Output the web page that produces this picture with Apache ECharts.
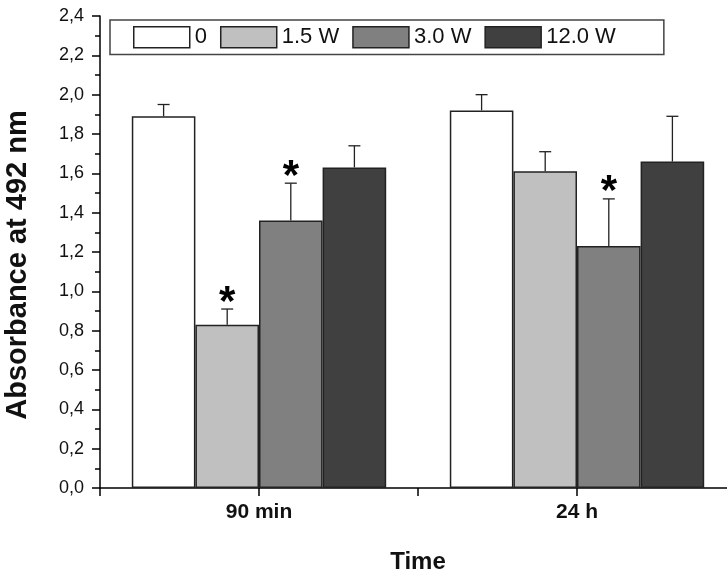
<!DOCTYPE html>
<html>
<head>
<meta charset="utf-8">
<script src="https://cdn.jsdelivr.net/npm/echarts@6/dist/echarts.min.js"></script>
<style>
html,body{margin:0;padding:0;background:#fff;}
#chart{width:727px;height:570px;}
</style>
</head>
<body>
<div id="chart"></div>
<script>
const categories = ['90 min', '24 h'];
const seriesNames = ['0', '1.5 W', '3.0 W', '12.0 W'];
const seriesColors = ['#ffffff', '#c0c0c0', '#808080', '#404040'];
const values0 = [1.89, 1.92];
const values15 = [0.83, 1.61];
const values30 = [1.36, 1.23];
const values120 = [1.63, 1.66];
const errors0 = [0.06, 0.08];
const errors15 = [0.08, 0.10];
const errors30 = [0.19, 0.24];
const errors120 = [0.11, 0.23];
const stars0 = [0, 0];
const stars15 = [1, 0];
const stars30 = [1, 1];
const stars120 = [0, 0];
const yTicks = [0, 2.4, 0.2];

const allValues = [values0, values15, values30, values120];
const allErrors = [errors0, errors15, errors30, errors120];
const allStars = [stars0, stars15, stars30, stars120];

const FONT = "'Liberation Sans', Arial, sans-serif";

const errData = [];
allValues.forEach((vals, si) => {
  vals.forEach((v, ci) => {
    errData.push([ci, si, v, allErrors[si][ci], allStars[si][ci]]);
  });
});

const barSeries = seriesNames.map((name, i) => ({
  name: name,
  type: 'bar',
  data: allValues[i],
  barGap: '0%',
  barCategoryGap: '20%',
  itemStyle: { color: seriesColors[i], borderColor: '#222', borderWidth: 1.5 },
  z: 2
}));

const errorSeries = {
  type: 'custom',
  data: errData,
  z: 5,
  silent: true,
  renderItem: function (params, api) {
    const ci = api.value(0), si = api.value(1), v = api.value(2), e = api.value(3), star = api.value(4);
    const band = api.size([1, 0])[0];
    const cx = api.coord([ci, 0])[0] + (si - 1.5) * band * 0.2;
    const yBase = api.coord([ci, v])[1];
    const yTop = api.coord([ci, v + e])[1];
    const st = { stroke: '#222', lineWidth: 1.3 };
    const children = [
      { type: 'line', shape: { x1: cx, y1: yBase, x2: cx, y2: yTop }, style: st },
      { type: 'line', shape: { x1: cx - 6, y1: yTop, x2: cx + 6, y2: yTop }, style: st }
    ];
    if (star) {
      children.push({
        type: 'text',
        style: {
          text: '*', x: cx, y: yTop + 15, align: 'center', verticalAlign: 'bottom',
          font: 'bold 42px ' + FONT, fill: '#000'
        }
      });
    }
    return { type: 'group', children: children };
  }
};

const chart = echarts.init(document.getElementById('chart'));
chart.setOption({
  animation: false,
  backgroundColor: '#fff',
  grid: { left: 100, right: -9, top: 16, bottom: 82, containLabel: false, outerBoundsMode: 'none' },
  legend: {
    data: seriesNames,
    left: 110,
    top: 20,
    orient: 'horizontal',
    padding: [6, 48, 6, 23],
    itemWidth: 56,
    itemHeight: 21,
    itemGap: 13,
    borderColor: '#444',
    borderWidth: 1.5,
    borderRadius: 0,
    icon: 'rect',
    itemStyle: { borderColor: '#222', borderWidth: 1.5 },
    textStyle: { fontFamily: FONT, fontSize: 22, color: '#111', lineHeight: 21 }
  },
  xAxis: [
    {
      type: 'category',
      data: categories,
      position: 'bottom',
      axisLine: { show: true, lineStyle: { color: '#000', width: 1.5 } },
      axisTick: { show: true, alignWithLabel: false, length: 8, lineStyle: { color: '#000', width: 1.5 } },
      axisLabel: { show: true, fontFamily: FONT, fontSize: 21, fontWeight: 'bold', color: '#111', margin: 14 },
      name: 'Time',
      nameLocation: 'middle',
      nameGap: 62,
      nameTextStyle: { fontFamily: FONT, fontSize: 24, fontWeight: 'bold', color: '#111' },
      splitLine: { show: false }
    },
    {
      type: 'category',
      data: categories,
      position: 'bottom',
      axisLine: { show: false },
      axisTick: { show: true, alignWithLabel: true, length: 8, lineStyle: { color: '#000', width: 1.5 } },
      axisLabel: { show: false },
      splitLine: { show: false }
    }
  ],
  yAxis: {
    type: 'value',
    min: yTicks[0],
    max: yTicks[1],
    interval: yTicks[2],
    axisLine: { show: true, lineStyle: { color: '#000', width: 1.5 } },
    axisTick: { show: true, length: 8, lineStyle: { color: '#000', width: 1.5 } },
    minorTick: { show: true, splitNumber: 2, length: 5, lineStyle: { color: '#000', width: 1.5 } },
    splitLine: { show: false },
    axisLabel: {
      fontFamily: FONT, fontSize: 18, color: '#111', margin: 16,
      formatter: v => v.toFixed(1).replace('.', ',')
    },
    name: 'Absorbance at 492 nm',
    nameLocation: 'middle',
    nameGap: 68,
    nameTextStyle: { fontFamily: FONT, fontSize: 29, fontWeight: 'bold', color: '#111', padding: [0, 26, 0, 0] }
  },
  series: barSeries.concat([errorSeries])
});
</script>
</body>
</html>
